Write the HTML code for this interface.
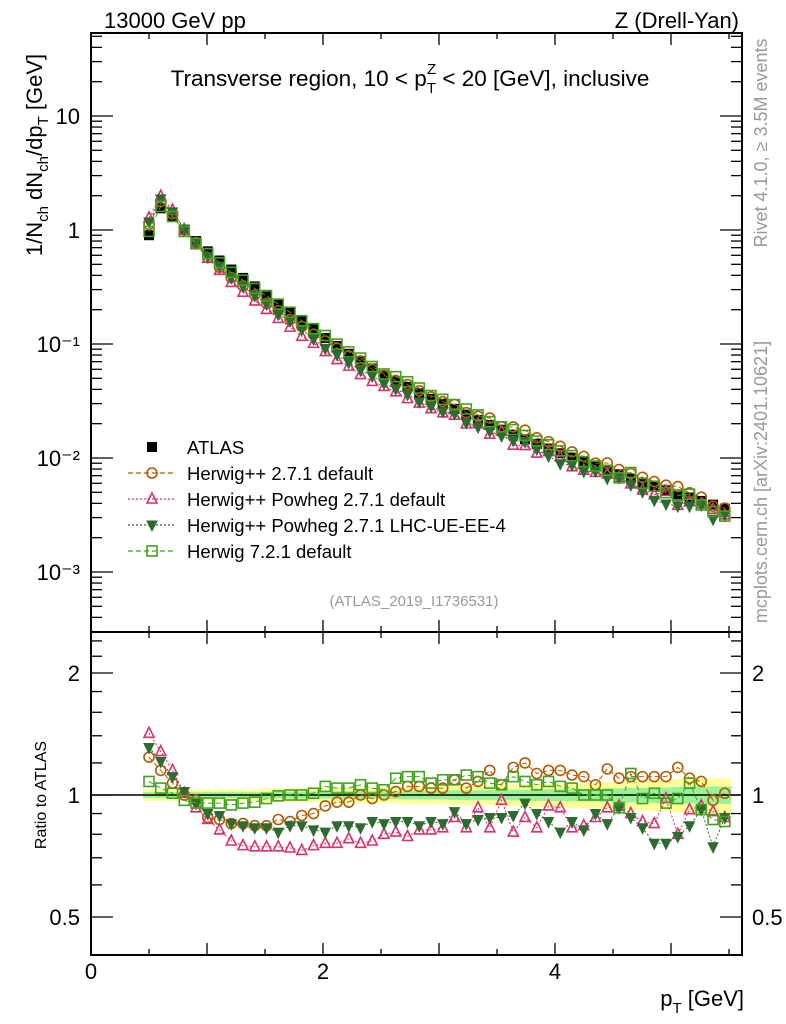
<!DOCTYPE html>
<html><head><meta charset="utf-8"><style>
html,body{margin:0;padding:0;background:#fff;}
svg{display:block;font-family:"Liberation Sans",sans-serif;}
</style></head><body>
<svg id="chart" width="786" height="1024" viewBox="0 0 786 1024" xmlns="http://www.w3.org/2000/svg"></svg>
<script>
const atlasValues=[0.90,1.55,1.30,1.00,0.80,0.65,0.54,0.45,0.38,0.32,0.27,0.225,0.19,0.16,0.135,0.113,0.096,0.082,0.071,0.061,0.053,0.047,0.042,0.037,0.033,0.030,0.027,0.024,0.0215,0.0195,0.0177,0.016,0.0146,0.0133,0.0121,0.011,0.0101,0.0093,0.0085,0.0078,0.0072,0.0066,0.0061,0.0056,0.0052,0.0048,0.0045,0.0042,0.0039,0.0036];
const atlasErr=[0.03,0.03,0.03,0.03,0.03,0.03,0.03,0.03,0.03,0.03,0.035,0.035,0.035,0.035,0.035,0.035,0.04,0.04,0.04,0.04,0.04,0.04,0.045,0.045,0.045,0.045,0.05,0.05,0.05,0.05,0.055,0.055,0.055,0.06,0.06,0.06,0.065,0.065,0.065,0.07,0.07,0.075,0.075,0.08,0.08,0.085,0.085,0.09,0.09,0.09];
const ratioHerwigpp=[1.24,1.15,1.07,1.0,0.97,0.88,0.87,0.85,0.85,0.84,0.84,0.87,0.86,0.89,0.9,0.94,0.96,0.96,1.0,0.98,1.0,1.02,1.05,1.05,1.04,1.04,1.09,1.04,1.08,1.15,1.06,1.17,1.2,1.13,1.15,1.15,1.12,1.11,1.06,1.16,1.1,1.11,1.11,1.11,1.11,1.17,1.1,1.08,0.97,1.01];
const ratioPowheg=[1.42,1.28,1.15,1.01,0.93,0.87,0.82,0.77,0.75,0.745,0.745,0.745,0.74,0.73,0.75,0.76,0.76,0.78,0.76,0.77,0.80,0.81,0.79,0.82,0.82,0.83,0.88,0.83,0.93,0.83,0.97,0.81,0.88,0.83,0.94,0.93,0.83,0.84,0.88,0.93,0.94,0.9,0.86,0.85,0.98,0.8,0.92,0.94,0.91,0.88];
const ratioUE=[1.31,1.21,1.11,1.02,0.955,0.90,0.89,0.85,0.84,0.83,0.83,0.81,0.84,0.84,0.82,0.81,0.84,0.84,0.83,0.86,0.85,0.86,0.86,0.84,0.86,0.85,0.91,0.85,0.87,0.88,0.88,0.89,0.955,0.9,0.86,0.81,0.86,0.82,0.9,0.85,0.93,0.88,0.83,0.76,0.76,0.79,0.84,0.92,0.745,0.88];
const ratioH7=[1.08,1.04,1.01,0.97,0.955,0.955,0.955,0.945,0.955,0.96,0.98,0.995,1.0,1.0,1.01,1.05,1.04,1.04,1.06,1.04,1.03,1.1,1.11,1.11,1.07,1.09,1.09,1.12,1.11,1.07,1.06,1.11,1.08,1.06,1.08,1.05,1.04,1.0,1.0,1.0,0.93,1.13,0.98,1.01,0.955,0.98,1.07,0.92,0.87,0.86];
const xTickLabels=["0","2","4"];
const mainTickLabels=["10","1","10\u207B\u00B9","10\u207B\u00B2","10\u207B\u00B3"];
const ratioTickLabels=["2","1","0.5"];

const NS="http://www.w3.org/2000/svg";
const svg=document.getElementById('chart');
const L=91,R=742,T=33,MB=632,B=955;
const xs=atlasValues.map((v,i)=>0.5+i*0.1013);
function X(v){return L+(v)*116;}
function Ym(v){return 230-Math.log10(v)*114;}
function Yr(v){return 795-Math.log2(v)*122;}
function el(tag,attrs,parent){const e=document.createElementNS(NS,tag);for(const k in attrs)e.setAttribute(k,attrs[k]);(parent||svg).appendChild(e);return e;}
function txt(s,x,y,attrs,parent){const e=el('text',Object.assign({x:x,y:y},attrs),parent);e.textContent=s;return e;}

const bands=el('g',{});


const step=0.1013/2;
xs.forEach((x,i)=>{
  const e=atlasErr[i];
  const ry=el('rect',{x:X(x-step),width:X(x+step)-X(x-step)+0.5,y:Yr(1+e*1.1),height:Yr(1-e*1.1)-Yr(1+e*1.1),fill:'#ffff99'},bands);
  
  
  const rg=el('rect',{x:X(x-step),width:X(x+step)-X(x-step)+0.5,y:Yr(1+e*0.55),height:Yr(1-e*0.55)-Yr(1+e*0.55),fill:'#99f299'},bands);
  
  
});
el('line',{x1:L,x2:R,y1:Yr(1),y2:Yr(1),stroke:'#000','stroke-width':1.5});

const f1=el('rect',{x:L,y:T,width:R-L,height:MB-T,fill:'none',stroke:'#000','stroke-width':2});

const f2=el('rect',{x:L,y:MB,width:R-L,height:B-MB,fill:'none',stroke:'#000','stroke-width':2});


const axg=el('g',{stroke:'#000','stroke-width':1.3});

for(let v=0;v<=5.6;v+=0.5){
  const maj=Math.abs(v-Math.round(v))<0.01;const len=maj?12:6;
  [[T,1],[MB,-1],[MB,1],[B,-1]].forEach(([y,d])=>el('line',{x1:X(v),x2:X(v),y1:y,y2:y+d*len},axg));
}
for(let d=-4;d<=1;d++){
  for(let m=1;m<=9;m++){
    const v=m*Math.pow(10,d);const y=Ym(v);if(y<T||y>MB)continue;
    const len=m==1?22:11;
    el('line',{x1:L,x2:L+len,y1:y,y2:y},axg);el('line',{x1:R,x2:R-len,y1:y,y2:y},axg);
  }
}
[0.4,0.5,0.6,0.7,0.8,0.9,1,1.2,1.4,1.6,1.8,2,2.2,2.4].forEach(v=>{
  const y=Yr(v);if(y<MB||y>B)return;const maj=(v==0.5||v==1||v==2);const len=maj?22:11;
  el('line',{x1:L,x2:L+len,y1:y,y2:y},axg);el('line',{x1:R,x2:R-len,y1:y,y2:y},axg);
});

[0,2,4].forEach((v,i)=>{const t=txt(xTickLabels[i],X(v),979,{'font-size':22,'text-anchor':'middle'});});
[10,1,0.1,0.01,0.001].forEach((v,i)=>{const t=txt(mainTickLabels[i],80,Ym(v)+8,{'font-size':22,'text-anchor':'end'});});
[2,1,0.5].forEach((v,i)=>{
  const a=txt(ratioTickLabels[i],80,Yr(v)+8,{'font-size':22,'text-anchor':'end'});
  const b=txt(ratioTickLabels[i],752,Yr(v)+8,{'font-size':22,'text-anchor':'start'});
});

const series=[
 {name:'herwigpp',r:ratioHerwigpp,c:'#b35a00',m:'circle',dash:'5,3'},
 {name:'powheg-default',r:ratioPowheg,c:'#d6336c',m:'tri',dash:'2,2'},
 {name:'powheg-ue',r:ratioUE,c:'#2e6b30',m:'dtri',dash:'2,2'},
 {name:'herwig7',r:ratioH7,c:'#44a01f',m:'square',dash:'5,3'}];
function marker(g,m,x,y,c,s){
  s=s||5;
  if(m=='circle')return el('circle',{cx:x,cy:y,r:s,fill:'none',stroke:c,'stroke-width':1.6},g);
  if(m=='tri')return el('polygon',{points:`${x},${y-s-1} ${x-s},${y+s-1} ${x+s},${y+s-1}`,fill:'none',stroke:c,'stroke-width':1.6},g);
  if(m=='dtri')return el('polygon',{points:`${x-s},${y-s+1} ${x+s},${y-s+1} ${x},${y+s+1}`,fill:c,stroke:c,'stroke-width':1},g);
  if(m=='square')return el('rect',{x:x-s,y:y-s,width:2*s,height:2*s,fill:'none',stroke:c,'stroke-width':1.6},g);
  if(m=='fsquare')return el('rect',{x:x-s,y:y-s,width:2*s,height:2*s,fill:c},g);
}
const ag=el('g',{});
xs.forEach((x,i)=>{const m=marker(ag,'fsquare',X(x),Ym(atlasValues[i]),'#000',5);});
series.forEach(s=>{
  const gm=el('g',{});
  const gr=el('g',{});
  const pm=xs.map((x,i)=>`${X(x)},${Ym(atlasValues[i]*s.r[i])}`).join(' ');
  const pr=xs.map((x,i)=>`${X(x)},${Yr(s.r[i])}`).join(' ');
  el('polyline',{points:pm,fill:'none',stroke:s.c,'stroke-width':1,'stroke-dasharray':s.dash},gm);
  el('polyline',{points:pr,fill:'none',stroke:s.c,'stroke-width':1,'stroke-dasharray':s.dash},gr);
  xs.forEach((x,i)=>{
    const a=marker(gm,s.m,X(x),Ym(atlasValues[i]*s.r[i]),s.c);
    const b=marker(gr,s.m,X(x),Yr(s.r[i]),s.c);
  });
});

const lg=el('g',{});
const legRows=[['ATLAS','fsquare','#000',null],['Herwig++ 2.7.1 default','circle','#b35a00','5,3'],['Herwig++ Powheg 2.7.1 default','tri','#d6336c','2,2'],['Herwig++ Powheg 2.7.1 LHC-UE-EE-4','dtri','#2e6b30','2,2'],['Herwig 7.2.1 default','square','#44a01f','5,3']];
legRows.forEach((r,i)=>{
  const y=447+i*26;
  const eg=el('g',{},lg);
  if(r[3])el('line',{x1:128,x2:176,y1:y,y2:y,stroke:r[2],'stroke-width':1.2,'stroke-dasharray':r[3]},eg);
  marker(eg,r[1],152,y,r[2],5);
  txt(r[0],187,y+7,{'font-size':18.5},eg);
});
</script>
<svg style="position:absolute;left:0;top:0" width="786" height="1024" font-family="Liberation Sans, sans-serif">
<text x="104" y="28" font-size="22">13000 GeV pp</text>
<text x="739" y="28" font-size="22" text-anchor="end">Z (Drell-Yan)</text>
<text x="410" y="86" font-size="22.5" text-anchor="middle">Transverse region, 10 &lt; p<tspan font-size="15" dy="7">T</tspan><tspan font-size="15" dx="-9" dy="-19">Z</tspan><tspan dy="12"> &lt; 20 [GeV], inclusive</tspan></text>
<text x="414" y="606" font-size="15" fill="#999" text-anchor="middle">(ATLAS_2019_I1736531)</text>
<text transform="translate(42,155) rotate(-90)" font-size="22" text-anchor="middle">1/N<tspan font-size="15" dy="6">ch</tspan><tspan dy="-6"> dN</tspan><tspan font-size="15" dy="6">ch</tspan><tspan dy="-6">/dp</tspan><tspan font-size="15" dy="6">T</tspan><tspan dy="-6"> [GeV]</tspan></text>
<text transform="translate(46,795) rotate(-90)" font-size="16" text-anchor="middle">Ratio to ATLAS</text>
<text x="744" y="1006" font-size="22" text-anchor="end">p<tspan font-size="15" dy="7">T</tspan><tspan dy="-7"> [GeV]</tspan></text>
<text transform="translate(767,143) rotate(-90)" font-size="18" fill="#999" text-anchor="middle">Rivet 4.1.0, ≥ 3.5M events</text>
<text transform="translate(767,482) rotate(-90)" font-size="18" fill="#999" text-anchor="middle">mcplots.cern.ch [arXiv:2401.10621]</text>
</svg>
</body></html>
